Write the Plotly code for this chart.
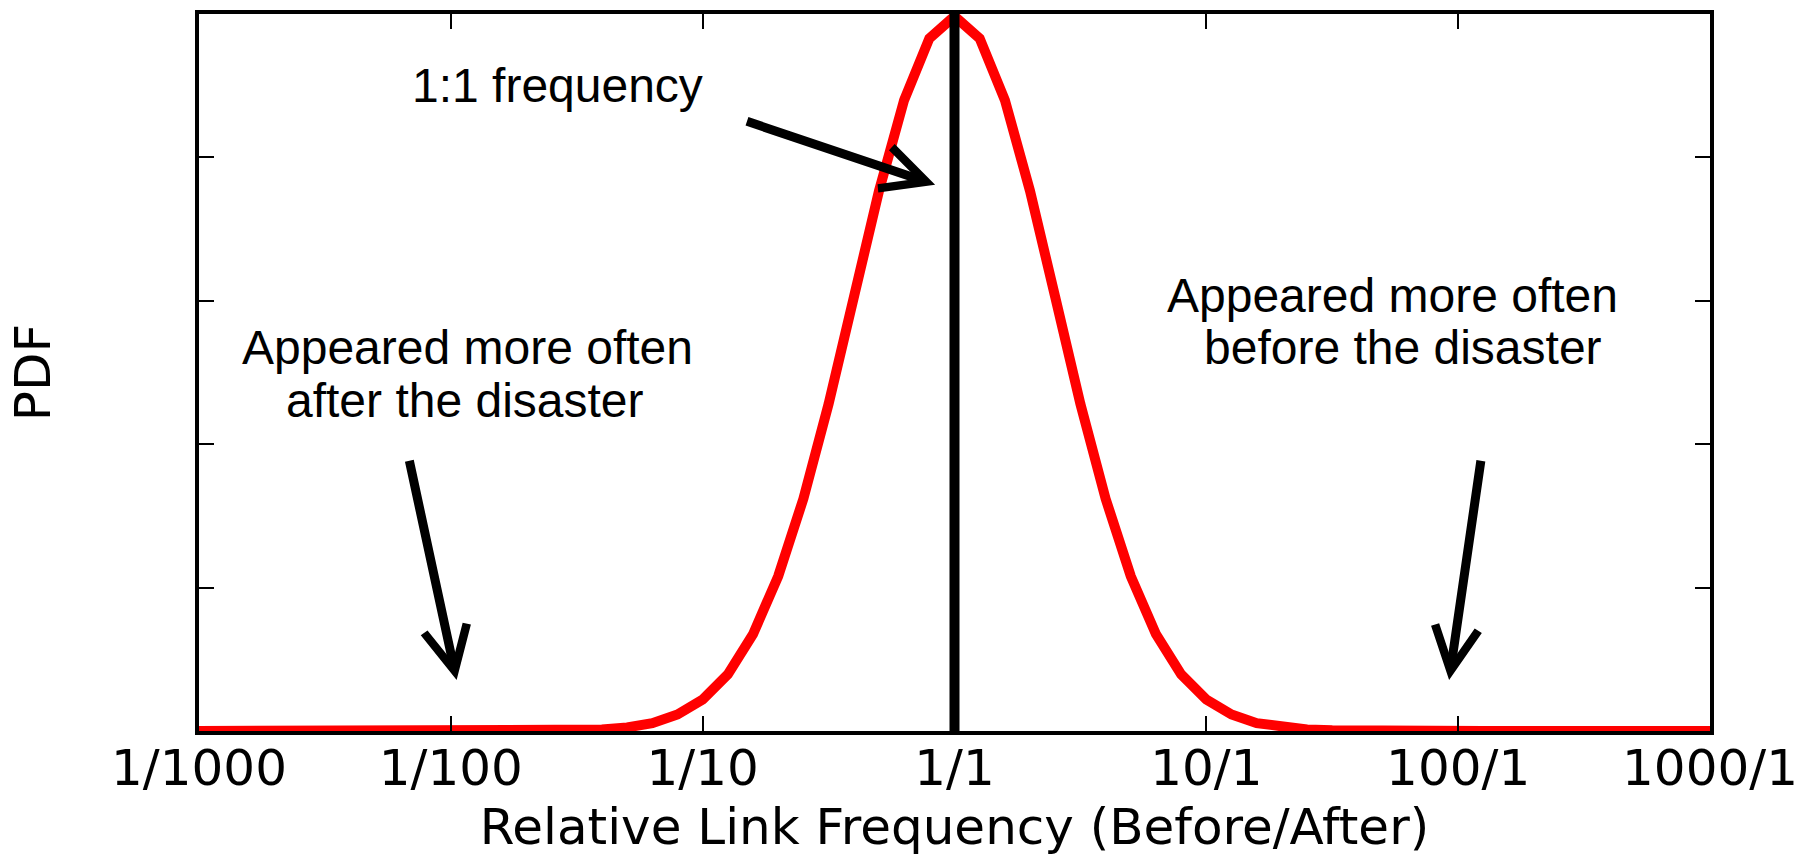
import plotly.graph_objects as go

# ---- data ----
log_ratio = [-3.0, -2.9, -2.8, -2.7, -2.6, -2.5, -2.4, -2.3, -2.2, -2.1,
             -2.0, -1.9, -1.8, -1.7, -1.6, -1.5, -1.4, -1.3, -1.2, -1.1,
             -1.0, -0.9, -0.8, -0.7, -0.6, -0.5, -0.4, -0.3, -0.2, -0.1,
             0.0,
             0.1, 0.2, 0.3, 0.4, 0.5, 0.6, 0.7, 0.8, 0.9, 1.0,
             1.1, 1.2, 1.3, 1.4, 1.5, 1.6, 1.7, 1.8, 1.9, 2.0,
             2.1, 2.2, 2.3, 2.4, 2.5, 2.6, 2.7, 2.8, 2.9, 3.0]
pdf = [0.0, 0.0, 0.0, 0.0, 0.0, 0.0, 0.0, 0.0, 0.0, 0.0,
       0.0, 0.0, 0.0, 0.0, 0.0003, 0.001, 0.002, 0.005, 0.011, 0.023,
       0.044, 0.079, 0.135, 0.216, 0.324, 0.456, 0.605, 0.753, 0.880, 0.966,
       0.997,
       0.966, 0.880, 0.753, 0.605, 0.456, 0.324, 0.216, 0.135, 0.079, 0.044,
       0.023, 0.011, 0.005, 0.002, 0.001, 0.0003, 0.0, 0.0, 0.0, 0.0,
       0.0, 0.0, 0.0, 0.0, 0.0, 0.0, 0.0, 0.0, 0.0, 0.0]
ratio = [10 ** v for v in log_ratio]

ref_x = [1, 1]
ref_y = [0.0, 1.0]

tick_vals = [0.001, 0.01, 0.1, 1, 10, 100, 1000]
tick_text = ["1/1000", "1/100", "1/10", "1/1", "10/1", "100/1", "1000/1"]
y_ticks = [0.0, 0.2, 0.4, 0.6, 0.8, 1.0]

AXFONT = "DejaVu Sans"
TXFONT = "Liberation Sans, Arial"

fig = go.Figure()
fig.add_trace(go.Scatter(x=ratio, y=pdf, mode="lines",
                         line=dict(color="#ff0000", width=10),
                         hoverinfo="skip"))
fig.add_trace(go.Scatter(x=ref_x, y=ref_y, mode="lines",
                         line=dict(color="black", width=10),
                         hoverinfo="skip"))

axis_common = dict(showline=True, linewidth=4, linecolor="black", mirror="ticks",
                   ticks="inside", ticklen=15, tickwidth=1.5, tickcolor="black",
                   showgrid=False, zeroline=False)

fig.update_xaxes(type="log", range=[-3, 3], tickvals=tick_vals, ticktext=tick_text,
                 tickfont=dict(family=AXFONT, size=50, color="black"),
                 ticklabelstandoff=-10,
                 title=dict(text="Relative Link Frequency (Before/After)",
                            font=dict(family=AXFONT, size=50, color="black"),
                            standoff=14),
                 **axis_common)
fig.update_yaxes(range=[0, 1.0], tickvals=y_ticks, showticklabels=False,
                 title=dict(text="PDF", font=dict(family=AXFONT, size=50, color="black"),
                            standoff=130),
                 **axis_common)

annotations = []
# text labels
txt = dict(xref="paper", yref="paper", showarrow=False,
           font=dict(family=TXFONT, size=48, color="black"),
           xanchor="center", yanchor="middle")
annotations.append(dict(text="1:1 frequency", x=0.2375, y=0.8996, **txt))
annotations.append(dict(text="Appeared more often", x=0.1774, y=0.5342, **txt))
annotations.append(dict(text="after the disaster", x=0.1760, y=0.4610, **txt))
annotations.append(dict(text="Appeared more often", x=0.7902, y=0.6067, **txt))
annotations.append(dict(text="before the disaster", x=0.7968, y=0.5342, **txt))

# arrows (tail -> tip), x in log10 units
arr = dict(xref="x", yref="y", axref="x", ayref="y", text="", showarrow=True,
           arrowhead=5, arrowsize=0.95, arrowwidth=9, arrowcolor="black", standoff=0)
annotations.append(dict(ax=-0.83, ay=0.851, x=-0.077, y=0.762, **arr))
annotations.append(dict(ax=-2.166, ay=0.379, x=-1.977, y=0.071, **arr))
annotations.append(dict(ax=2.091, ay=0.379, x=1.964, y=0.071, **arr))

fig.update_layout(width=1808, height=859,
                  margin=dict(l=199, r=98, t=14, b=128, autoexpand=False),
                  plot_bgcolor="white", paper_bgcolor="white",
                  showlegend=False, annotations=annotations)

fig.write_html("out.html")
